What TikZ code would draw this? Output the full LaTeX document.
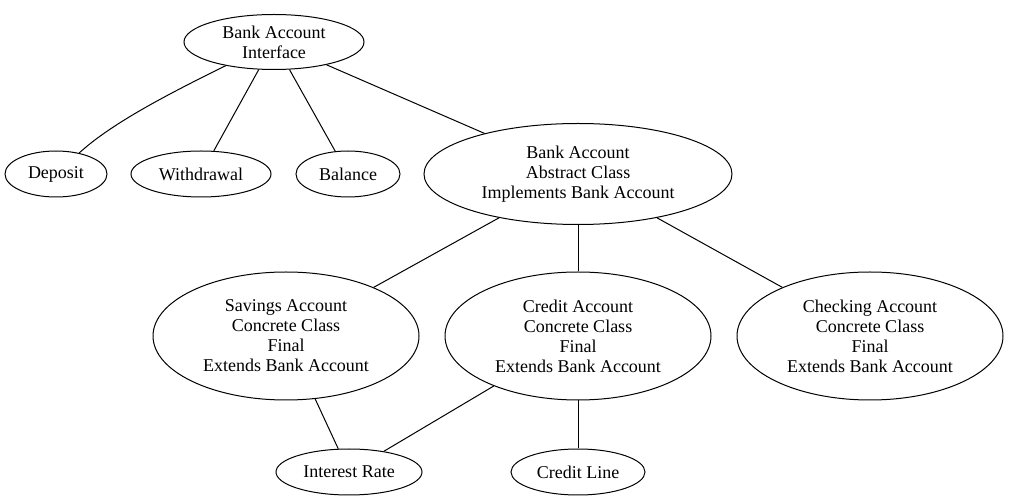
\documentclass[tikz,border=0pt]{standalone}
\usepackage{fontspec}
\setmainfont{Liberation Serif}
\usetikzlibrary{shapes.geometric}

\tikzset{
  oval/.style={draw, ellipse, inner sep=0pt, align=center, line width=1pt,
    font=\fontsize{18}{20}\selectfont},
  link/.style={draw, line width=1pt}
}

\begin{document}
\begin{tikzpicture}[x=1pt, y=-1pt]
    \useasboundingbox (0,0) rectangle (1010,502);
    \node[oval, minimum width=180pt, minimum height=55pt] (iface) at (274,42) {Bank Account\\Interface};
    \node[oval, minimum width=102pt, minimum height=46pt] (deposit) at (56,174) {Deposit};
    \node[oval, minimum width=140pt, minimum height=46pt] (withdraw) at (201,174) {Withdrawal};
    \node[oval, minimum width=104pt, minimum height=46pt] (balance) at (348,174) {Balance};
    \node[oval, minimum width=308pt, minimum height=101pt] (abstract) at (578,174) {Bank Account\\Abstract Class\\Implements Bank Account};
    \node[oval, minimum width=266pt, minimum height=128pt] (savings) at (286,336) {Savings Account\\Concrete Class\\Final\\Extends Bank Account};
    \node[oval, minimum width=266pt, minimum height=128pt] (credit) at (578,336) {Credit Account\\Concrete Class\\Final\\Extends Bank Account};
    \node[oval, minimum width=266pt, minimum height=128pt] (checking) at (870,336) {Checking Account\\Concrete Class\\Final\\Extends Bank Account};
    \node[oval, minimum width=146pt, minimum height=46pt] (interest) at (349,472) {Interest Rate};
    \node[oval, minimum width=134pt, minimum height=46pt] (creditline) at (578,472) {Credit Line};

    \draw[link] (iface) .. controls (160,98) and (110,125) .. (deposit);
    \draw[link] (iface) -- (withdraw);
    \draw[link] (iface) -- (balance);
    \draw[link] (iface) -- (abstract);
    \draw[link] (abstract) -- (savings);
    \draw[link] (abstract) -- (credit);
    \draw[link] (abstract) -- (checking);
    \draw[link] (savings) -- (interest);
    \draw[link] (credit) -- (interest);
    \draw[link] (credit) -- (creditline);
\end{tikzpicture}
\end{document}
